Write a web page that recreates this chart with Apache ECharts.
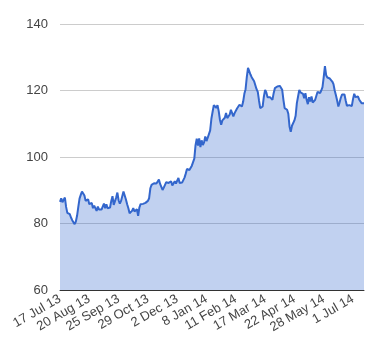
<!DOCTYPE html>
<html>
<head>
<meta charset="utf-8">
<script src="https://cdn.jsdelivr.net/npm/echarts@6/dist/echarts.min.js"></script>
<style>html,body{margin:0;padding:0;background:#fff;}#c{width:380px;height:360px;}</style>
</head>
<body>
<div id="c"></div>
<script>
var tickLabels = ['17 Jul 13','20 Aug 13','25 Sep 13','29 Oct 13','2 Dec 13','8 Jan 14','11 Feb 14','17 Mar 14','22 Apr 14','28 May 14','1 Jul 14'];
var labelStep = 24;
var yTicks = [60, 80, 100, 120, 140];
var values = [
86.5, 87.6, 86.4, 87.0, 87.8,
85.0, 83.2, 82.6, 82.8, 81.8,
81.0, 80.6, 79.8, 80.6, 82.4,
85.0, 87.5, 88.6, 89.6, 89.9,
88.4, 86.8, 87.0, 87.3, 85.8,
86.4, 86.2, 84.6, 85.4, 84.9,
83.8, 85.1, 84.2, 84.7, 84.2,
84.8, 86.0, 84.6, 85.8, 84.6,
84.3, 84.8, 86.8, 88.2, 85.6,
86.1, 87.8, 89.3, 87.0, 86.0,
86.8, 88.2, 89.6, 88.4, 87.2,
85.8, 84.6, 83.1, 83.4, 83.8,
84.6, 83.6, 83.1, 84.3, 82.3,
84.8, 85.8, 86.1, 85.9, 85.6,
86.2, 86.6, 86.8, 87.6, 90.6,
91.6, 92.0, 92.1, 91.8, 92.0,
92.4, 93.2, 91.9, 91.0, 90.1,
90.8, 91.6, 92.4, 92.1, 92.2,
92.5, 92.7, 91.4, 91.6, 92.7,
92.0, 92.9, 93.7, 92.2, 92.4,
92.3, 92.6, 93.8, 95.0, 96.4,
96.7, 96.1, 96.5, 97.4, 97.8,
99.5, 103.5, 105.5, 103.4, 105.6,
103.0, 105.0, 103.6, 104.4, 106.2,
104.8, 105.8, 106.4, 108.0, 111.5,
113.6, 115.6, 116.2, 114.8, 115.6,
113.8, 111.2, 109.7, 111.0, 111.4,
111.8, 113.2, 111.7, 112.0, 112.8,
114.2, 114.4, 112.2, 113.2, 113.7,
114.6, 115.2, 115.7, 115.3, 115.2,
116.6, 119.0, 120.4, 124.0, 126.8,
125.8, 124.8, 124.0, 123.4, 122.8,
121.6, 120.4, 119.6, 117.0, 114.7,
114.8, 115.2, 118.2, 120.2, 119.4,
118.0, 117.6, 118.0, 118.2, 117.2,
119.2, 120.7, 121.0, 121.2, 121.7,
121.4, 121.0, 120.2, 117.2, 114.7,
114.4, 114.2, 113.0, 109.2, 107.6,
109.4, 109.7, 111.0, 112.4, 116.2,
118.2, 120.2, 119.4, 120.0, 119.0,
117.7, 119.2, 117.2, 115.9, 118.0,
116.7, 118.2, 116.4, 116.8, 117.2,
118.4, 119.6, 120.2, 119.2, 120.0,
121.0, 124.0, 127.3, 124.6, 123.9,
124.3, 123.6, 123.3, 122.7, 121.9,
120.0, 118.6, 117.0, 115.2, 116.4,
117.8, 118.8, 119.2, 118.8, 117.0,
115.4, 114.8, 115.6, 115.4, 115.3,
117.4, 119.0, 118.0, 117.9, 118.2,
117.3, 116.8, 116.2, 115.7, 116.2
];
var categories = values.map(function (v, i) { return i % labelStep === 0 ? (tickLabels[i / labelStep] || '') : ''; });

var chart = echarts.init(document.getElementById('c'), null, {renderer: 'canvas'});
chart.setOption({
  animation: false,
  backgroundColor: '#ffffff',
  textStyle: {fontFamily: 'Liberation Sans, Arial, sans-serif'},
  grid: {left: 60, right: 16, top: 24, bottom: 70, containLabel: false},
  xAxis: {
    type: 'category',
    data: categories,
    boundaryGap: false,
    axisLine: {show: true, lineStyle: {color: '#333333', width: 1}},
    axisTick: {show: false},
    splitLine: {show: false},
    axisLabel: {
      interval: labelStep - 1,
      rotate: 30,
      margin: 8,
      color: '#444444',
      fontSize: 13,
      fontFamily: 'Liberation Sans, Arial, sans-serif'
    }
  },
  yAxis: {
    type: 'value',
    min: yTicks[0],
    max: yTicks[yTicks.length - 1],
    interval: 20,
    axisLine: {show: false},
    axisTick: {show: false},
    splitLine: {show: true, lineStyle: {color: '#cccccc', width: 1}},
    axisLabel: {
      margin: 12,
      color: '#444444',
      fontSize: 13,
      fontFamily: 'Liberation Sans, Arial, sans-serif'
    }
  },
  series: [{
    type: 'line',
    data: values,
    showSymbol: false,
    symbol: 'none',
    lineStyle: {color: '#3366cc', width: 2},
    itemStyle: {color: '#3366cc'},
    areaStyle: {color: '#3366cc', opacity: 0.3, origin: 'start'}
  }]
});
</script>
</body>
</html>
